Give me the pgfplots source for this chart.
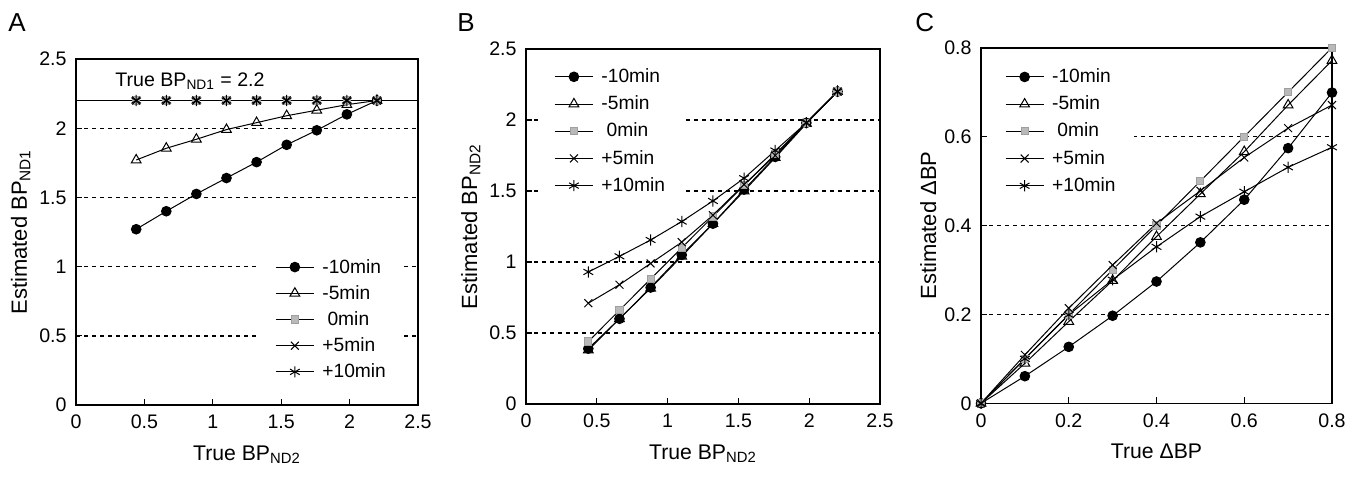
\documentclass[border=0pt]{standalone}
\usepackage{fontspec}
\setmainfont{Liberation Sans}
\usepackage{pgfplots}
\pgfplotsset{compat=1.18}

% three panels share one look
\pgfplotsset{
  panel/.style={
    scale only axis, clip=false,
    axis line style={line width=0.8pt},
    tick align=inside, xtick pos=lower, ytick pos=left,
    major tick length=3pt, tick style={black, line width=0.6pt},
    tick label style={font=\fontsize{9.8}{11}\selectfont},
    ymajorgrids, grid style={black, line width=0.7pt, dash pattern=on 2pt off 2pt},
    xticklabel style={yshift=-1.6pt},
    yticklabel style={xshift=-1.2pt},
    xlabel style={font=\fontsize{10.6}{12}\selectfont,
      at={(axis description cs:0.5,0)}, anchor=base, yshift=-27.5pt},
    ylabel style={font=\fontsize{11}{12}\selectfont},
    legend cell align=left,
    legend style={draw=none, fill=white, inner xsep=8pt, inner ysep=3pt,
      font=\fontsize{9.6}{11}\selectfont,
      nodes={inner sep=1pt, text height=8.6pt, text depth=3pt}},
    legend image code/.code={
      \draw[mark repeat=2,mark phase=2] plot coordinates {(0pt,0pt)(9.5pt,0pt)(19pt,0pt)};
      \path (22pt,0pt);},
  },
  s1/.style={black, line width=0.5pt, mark=*, mark size=2.4pt, mark options={fill=black}},
  s2/.style={black, line width=0.5pt, mark=triangle, mark size=2.8pt, mark options={fill=white}},
  s3/.style={black, line width=0.5pt, mark=square*, mark size=1.8pt, mark options={fill=gray!55, draw=gray!75}},
  s4/.style={black, line width=0.5pt, mark=x, mark size=2.8pt},
  s5/.style={black, line width=0.5pt, mark=asterisk, mark size=2.8pt},
}

\begin{document}
\begin{tikzpicture}[x=1pt,y=1pt]
\useasboundingbox (0,0) rectangle (681.5,238);

\node[anchor=base west, inner sep=0, font=\fontsize{13}{13}\selectfont] at (4,222) {A};
\node[anchor=base west, inner sep=0, font=\fontsize{13}{13}\selectfont] at (228.5,222) {B};
\node[anchor=base west, inner sep=0, font=\fontsize{13}{13}\selectfont] at (457.5,222) {C};

% ---- A ----
\begin{axis}[panel, at={(38pt,35.5pt)}, anchor=south west, width=171pt, height=173pt,
  xmin=0, xmax=2.5, ymin=0, ymax=2.5,
  xtick={0,0.5,1,1.5,2,2.5}, xticklabels={0,0.5,1,1.5,2,2.5},
  ytick={0,0.5,1,1.5,2,2.5}, yticklabels={0,0.5,1,1.5,2,2.5},
  xlabel={True BP\textsubscript{ND2}},
  ylabel={Estimated BP\textsubscript{ND1}},
  ylabel style={at={([xshift=-24.5pt]axis description cs:0,0.5)}, anchor=base},
  legend style={at={(axis description cs:0.535,0.455)}, anchor=north west,
    nodes={text depth=2.5pt}},
]
\addplot[black, line width=0.6pt, forget plot] coordinates {(0,2.2)(2.5,2.2)};
\addplot[s1] coordinates {(0.44,1.27)(0.66,1.40)(0.88,1.525)(1.1,1.64)(1.32,1.755)(1.54,1.88)(1.76,1.985)(1.98,2.10)(2.2,2.2)};
\addlegendentry{-10min}
\addplot[s2] coordinates {(0.44,1.77)(0.66,1.855)(0.88,1.92)(1.1,1.99)(1.32,2.04)(1.54,2.09)(1.76,2.13)(1.98,2.17)(2.2,2.2)};
\addlegendentry{-5min}
\addplot[s3] coordinates {(0.44,2.2)(0.66,2.2)(0.88,2.2)(1.1,2.2)(1.32,2.2)(1.54,2.2)(1.76,2.2)(1.98,2.2)(2.2,2.2)};
\addlegendentry{\hspace{2.6pt}0min}
\addplot[s4] coordinates {(0.44,2.2)(0.66,2.2)(0.88,2.2)(1.1,2.2)(1.32,2.2)(1.54,2.2)(1.76,2.2)(1.98,2.2)(2.2,2.2)};
\addlegendentry{+5min}
\addplot[s5] coordinates {(0.44,2.2)(0.66,2.2)(0.88,2.2)(1.1,2.2)(1.32,2.2)(1.54,2.2)(1.76,2.2)(1.98,2.2)(2.2,2.2)};
\addlegendentry{+10min}
\node[anchor=base west, inner sep=0, font=\fontsize{9.8}{11}\selectfont] at (axis cs:0.285,2.298) {True BP\textsubscript{ND1} = 2.2};
\end{axis}

% ---- B ----
\begin{axis}[panel, at={(263pt,36pt)}, anchor=south west, width=177pt, height=177.5pt,
  xmin=0, xmax=2.5, ymin=0, ymax=2.5,
  xtick={0,0.5,1,1.5,2,2.5}, xticklabels={0,0.5,1,1.5,2,2.5},
  ytick={0,0.5,1,1.5,2,2.5}, yticklabels={0,0.5,1,1.5,2,2.5},
  xlabel={True BP\textsubscript{ND2}},
  ylabel={Estimated BP\textsubscript{ND2}},
  ylabel style={at={([xshift=-24.5pt]axis description cs:0,0.5)}, anchor=base},
  legend style={at={(axis description cs:0.034,0.978)}, anchor=north west},
]
\addplot[s1] coordinates {(0.44,0.39)(0.66,0.60)(0.88,0.82)(1.1,1.05)(1.32,1.27)(1.54,1.51)(1.76,1.74)(1.98,1.98)(2.2,2.2)};
\addlegendentry{-10min}
\addplot[s2] coordinates {(0.44,0.38)(0.66,0.60)(0.88,0.815)(1.1,1.04)(1.32,1.27)(1.54,1.50)(1.76,1.735)(1.98,1.975)(2.2,2.2)};
\addlegendentry{-5min}
\addplot[s3] coordinates {(0.44,0.44)(0.66,0.66)(0.88,0.88)(1.1,1.1)(1.32,1.32)(1.54,1.54)(1.76,1.76)(1.98,1.98)(2.2,2.2)};
\addlegendentry{\hspace{2.6pt}0min}
\addplot[s4] coordinates {(0.44,0.71)(0.66,0.84)(0.88,0.99)(1.1,1.14)(1.32,1.33)(1.54,1.545)(1.76,1.75)(1.98,1.98)(2.2,2.2)};
\addlegendentry{+5min}
\addplot[s5] coordinates {(0.44,0.93)(0.66,1.04)(0.88,1.155)(1.1,1.285)(1.32,1.43)(1.54,1.59)(1.76,1.785)(1.98,1.98)(2.2,2.2)};
\addlegendentry{+10min}
\end{axis}

% ---- C ----
\begin{axis}[panel, at={(490.5pt,36.35pt)}, anchor=south west, width=175.5pt, height=177.8pt,
  xmin=0, xmax=0.8, ymin=0, ymax=0.8,
  xtick={0,0.2,0.4,0.6,0.8}, xticklabels={0,0.2,0.4,0.6,0.8},
  ytick={0,0.2,0.4,0.6,0.8}, yticklabels={0,0.2,0.4,0.6,0.8},
  xlabel={True ΔBP},
  ylabel={Estimated ΔBP},
  ylabel style={at={([xshift=-22.5pt]axis description cs:0,0.5)}, anchor=base},
  legend style={at={(axis description cs:0.022,0.974)}, anchor=north west},
]
\addplot[s1] coordinates {(0,0)(0.1,0.061)(0.2,0.127)(0.3,0.197)(0.4,0.274)(0.5,0.362)(0.6,0.458)(0.7,0.574)(0.8,0.699)};
\addlegendentry{-10min}
\addplot[s2] coordinates {(0,0)(0.1,0.09)(0.2,0.184)(0.3,0.276)(0.4,0.375)(0.5,0.471)(0.6,0.566)(0.7,0.671)(0.8,0.771)};
\addlegendentry{-5min}
\addplot[s3] coordinates {(0,0)(0.1,0.1)(0.2,0.2)(0.3,0.3)(0.4,0.4)(0.5,0.5)(0.6,0.6)(0.7,0.7)(0.8,0.8)};
\addlegendentry{\hspace{2.6pt}0min}
\addplot[s4] coordinates {(0,0)(0.1,0.109)(0.2,0.214)(0.3,0.311)(0.4,0.405)(0.5,0.478)(0.6,0.553)(0.7,0.619)(0.8,0.671)};
\addlegendentry{+5min}
\addplot[s5] coordinates {(0,0)(0.1,0.1)(0.2,0.199)(0.3,0.278)(0.4,0.352)(0.5,0.42)(0.6,0.476)(0.7,0.531)(0.8,0.576)};
\addlegendentry{+10min}
\end{axis}
\end{tikzpicture}
\end{document}
